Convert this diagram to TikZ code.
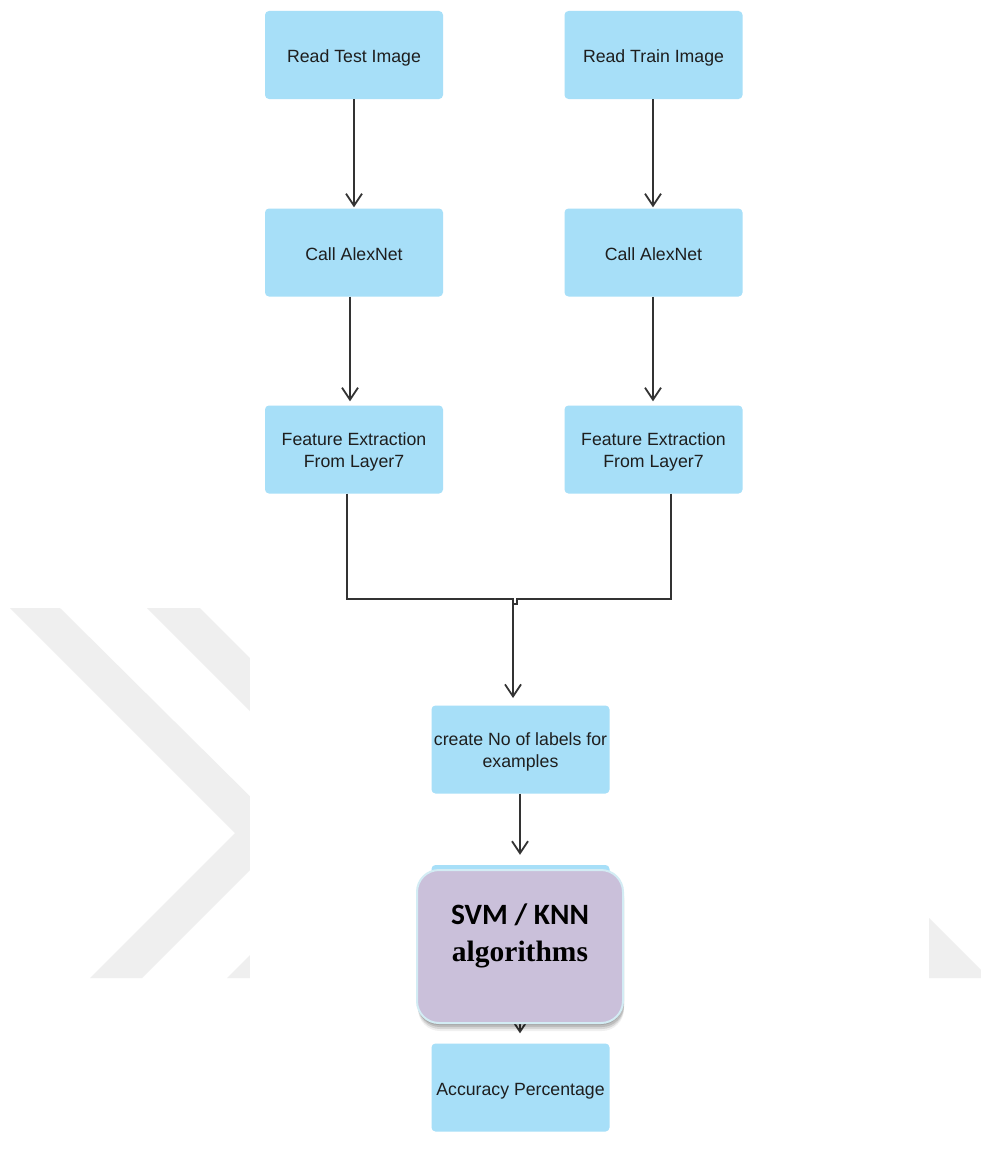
\documentclass[tikz,border=0pt]{standalone}
\usepackage{fontspec}
\setmainfont{Liberation Sans}
\newfontfamily\calibfont{Carlito}
\newfontfamily\timesfont{Liberation Serif}
\usetikzlibrary{arrows.meta,shadows}
\definecolor{boxblue}{HTML}{A7DFF8}
\definecolor{lav}{HTML}{CAC0DA}
\definecolor{lavborder}{HTML}{D3ECF4}
\definecolor{wm}{HTML}{EFEFEF}
\definecolor{linec}{HTML}{333333}
\definecolor{txt}{HTML}{1E1E1E}
\tikzset{
  stepbox/.style={rectangle, rounded corners=4pt, fill=boxblue, draw=none,
    minimum width=178pt, minimum height=88pt, inner sep=0pt, align=center,
    text=txt, font=\fontsize{17.7}{22}\selectfont, text height=16pt, text depth=0pt},
  twoline/.style={text height=36pt, text depth=0pt},
  flow/.style={draw=linec, line width=1.8pt, -{Straight Barb[length=12pt,width=16pt,line width=1.8pt]}},
  plain/.style={draw=linec, line width=1.8pt},
  algbox/.style={rectangle, rounded corners=22pt, fill=lav, draw=lavborder, line width=2pt,
    minimum width=206pt, minimum height=153pt, align=center, inner sep=0pt,
    drop shadow={shadow xshift=0pt, shadow yshift=-2pt, fill=black, opacity=0.12},
    drop shadow={shadow xshift=1pt, shadow yshift=-4pt, fill=black, opacity=0.12},
    drop shadow={shadow xshift=1pt, shadow yshift=-6pt, fill=black, opacity=0.10},
    drop shadow={shadow xshift=1pt, shadow yshift=-8pt, fill=black, opacity=0.06}}
}
\begin{document}
\begin{tikzpicture}[x=1pt,y=-1pt]
\useasboundingbox (0,0) rectangle (981,1156);
\fill[white] (0,0) rectangle (981,1156);
% watermark
\begin{scope}
\clip (0,0) rectangle (981,1156);
\fill[wm] (10,608) -- (60,608) -- (287,833) -- (142,978) -- (90,978) -- (235,833) -- cycle;
\fill[wm] (147,608) -- (200,608) -- (425,833) -- (280,978) -- (227,978) -- (372,833) -- cycle;
\fill[wm] (929,918) -- (981,970) -- (981,978) -- (929,978) -- cycle;
\fill[white] (250,590) rectangle (929,992);
\end{scope}

% nodes
\node[stepbox] (rt) at (354,55) {Read Test Image};
\node[stepbox] (rr) at (653.5,55) {Read Train Image};
\node[stepbox] (ca1) at (354,252.5) {Call AlexNet};
\node[stepbox] (ca2) at (653.5,252.5) {Call AlexNet};
\node[stepbox, twoline] (fe1) at (354,449.5) {Feature Extraction\\From Layer7};
\node[stepbox, twoline] (fe2) at (653.5,449.5) {Feature Extraction\\From Layer7};
\node[stepbox, twoline] (cr) at (520.5,749.5) {create No of labels for\\examples};
\node[stepbox] (hid) at (520.5,909) {};
\node[stepbox] (acc) at (520.5,1087.5) {Accuracy Percentage};

\coordinate (jl) at (514,599);
\coordinate (jr) at (517,599);
\coordinate (jd) at (513,604);

% connectors
\draw[flow, shorten >=1pt] (rt.south) -- (rt.south |- ca1.north);
\draw[flow, shorten >=1pt] ([xshift=-0.5pt]rr.south) -- ([xshift=-0.5pt]ca2.north);
\draw[flow, shorten >=4pt] ([xshift=-4pt]ca1.south) -- ([xshift=-4pt]fe1.north);
\draw[flow, shorten >=4pt] ([xshift=-0.5pt]ca2.south) -- ([xshift=-0.5pt]fe2.north);
\draw[plain] ([xshift=-7pt]fe1.south) |- (jl);
\draw[plain] ([xshift=17.5pt]fe2.south) |- (jr) -- (jr |- jd) -- (jd);
\draw[flow, shorten >=7pt] (513,599) -- (513,705);
\draw[flow, shorten >=10pt] ([xshift=-0.5pt]cr.south) -- ([xshift=-0.5pt]hid.north);
\draw[flow, shorten >=10pt] ([xshift=-0.5pt]hid.south) -- ([xshift=-0.5pt]acc.north);

\node[algbox] (svm) at (520,946.5) {};
\node[font=\calibfont\bfseries\fontsize{29.5}{30}\selectfont, text=black, anchor=base] (svmt) at (520,924) {SVM / KNN};
\node[font=\timesfont\bfseries\fontsize{29.5}{30}\selectfont, text=black, anchor=base] (algt) at (520,961) {algorithms};
\end{tikzpicture}
\end{document}
